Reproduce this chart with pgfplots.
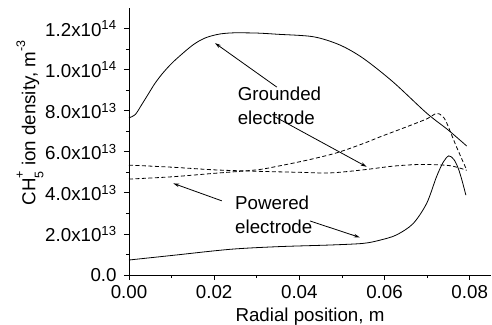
\documentclass[border=0pt]{standalone}
\usepackage{fontspec}
\setmainfont{Liberation Sans}
\usepackage{pgfplots}
\pgfplotsset{compat=1.18}
\usetikzlibrary{arrows.meta}

\newcommand{\smallidx}{\fontsize{12.5}{12.5}\selectfont}

\begin{document}
\fontsize{18.8}{24}\selectfont
\begin{tikzpicture}
\begin{axis}[
  scale only axis,
  width=362bp, height=267bp,
  xmin=0, xmax=0.085,
  ymin=0, ymax=1.3e14,
  axis x line=bottom, axis y line=left,
  axis line style={-, line width=0.9bp},
  tick align=outside,
  major tick length=5bp, minor tick length=3bp,
  every tick/.style={black, line width=0.8bp},
  xtick={0,0.02,0.04,0.06,0.08},
  minor x tick num=1,
  ytick={0,2e13,4e13,6e13,8e13,1e14,1.2e14},
  minor y tick num=1,
  scaled x ticks=false, scaled y ticks=false,
  xticklabel style={/pgf/number format/fixed, /pgf/number format/fixed zerofill,
    /pgf/number format/precision=2, /pgf/number format/assume math mode=true, yshift=1bp},
  yticklabels={0.0, 2.0x10\textsuperscript{13}, 4.0x10\textsuperscript{13}, 6.0x10\textsuperscript{13}, 8.0x10\textsuperscript{13}, 1.0x10\textsuperscript{14}, 1.2x10\textsuperscript{14}},
  tick label style={font=\fontsize{18.8}{22}\selectfont},
  yticklabel style={xshift=-1bp},
  xlabel={Radial position, m},
  ylabel={CH\rlap{\raisebox{-0.42em}{\smallidx 5}}\raisebox{0.62em}{\smallidx +}\ ion density, m\raisebox{0.55em}{\smallidx -3}},
  label style={font=\fontsize{18.8}{22}\selectfont},
  xlabel style={yshift=3.5bp},
  ylabel style={at={(axis description cs:-0.2735,0.569)}, anchor=center},
  clip=false,
]
% grounded electrode, solid
\addplot[black, line width=0.8bp, smooth, tension=0.5] coordinates {
  (0,7.65e13) (0.0015,7.82e13) (0.003,8.3e13) (0.0045,8.8e13) (0.006,9.3e13)
  (0.0075,9.72e13) (0.009,10.08e13) (0.0105,10.4e13) (0.012,10.68e13)
  (0.0135,10.95e13) (0.015,11.2e13) (0.0165,11.4e13) (0.018,11.55e13)
  (0.0195,11.65e13) (0.0215,11.74e13) (0.0245,11.79e13) (0.03,11.78e13)
  (0.035,11.72e13) (0.0433,11.6e13) (0.0495,11.2e13) (0.055,10.55e13)
  (0.062,9.4e13) (0.0699,7.88e13) (0.075,7.05e13) (0.0793,6.28e13)
};
% powered electrode, solid
\addplot[black, line width=0.8bp, smooth, tension=0.5] coordinates {
  (0,0.73e13) (0.01,0.95e13) (0.0237,1.25e13) (0.035,1.38e13) (0.0472,1.46e13)
  (0.055,1.54e13) (0.059,1.7e13) (0.0628,1.95e13) (0.0667,2.5e13) (0.0699,3.49e13)
  (0.0722,4.78e13) (0.0738,5.5e13) (0.0751,5.8e13) (0.0763,5.62e13)
  (0.0773,5.2e13) (0.0782,4.6e13) (0.0791,3.89e13)
};
% powered electrode, dashed
\addplot[black, line width=0.8bp, dash pattern=on 4bp off 2.5bp, smooth, tension=0.5] coordinates {
  (0,4.67e13) (0.01,4.78e13) (0.02,4.95e13) (0.03,5.12e13) (0.035,5.3e13)
  (0.042,5.6e13) (0.0488,5.95e13) (0.055,6.4e13) (0.059,6.73e13) (0.065,7.2e13)
  (0.0699,7.6e13) (0.0722,7.87e13) (0.0735,7.75e13) (0.0745,7.45e13)
  (0.0769,6.24e13) (0.0793,5.11e13)
};
% grounded electrode, dashed
\addplot[black, line width=0.8bp, dash pattern=on 4bp off 2.5bp, smooth, tension=0.5] coordinates {
  (0,5.35e13) (0.01,5.25e13) (0.02,5.12e13) (0.03,5.05e13) (0.04,5.0e13)
  (0.0472,4.97e13) (0.055,5.12e13) (0.062,5.3e13) (0.068,5.38e13)
  (0.073,5.36e13) (0.076,5.3e13) (0.0793,5.1e13)
};
% labels and pointers
\node[anchor=west, align=left, inner sep=0pt] at (axis cs:0.0255,8.25e13) {Grounded\\electrode};
\node[anchor=west, align=left, inner sep=0pt] at (axis cs:0.0249,2.92e13) {Powered\\electrode};
\draw[line width=0.8bp, -{Stealth[length=6bp,width=3.5bp]}] (axis cs:0.0347,9.15e13) -- (axis cs:0.0202,11.29e13);
\draw[line width=0.8bp, -{Stealth[length=6bp,width=3.5bp]}] (axis cs:0.0343,7.7e13) -- (axis cs:0.0558,5.27e13);
\draw[line width=0.8bp, -{Stealth[length=6bp,width=3.5bp]}] (axis cs:0.0218,3.61e13) -- (axis cs:0.0104,4.46e13);
\draw[line width=0.8bp, -{Stealth[length=6bp,width=3.5bp]}] (axis cs:0.0425,2.63e13) -- (axis cs:0.0542,1.83e13);
\end{axis}
\pgfresetboundingbox
\path[use as bounding box] (-129bp,-50bp) rectangle (363bp,275bp);
\end{tikzpicture}
\end{document}
